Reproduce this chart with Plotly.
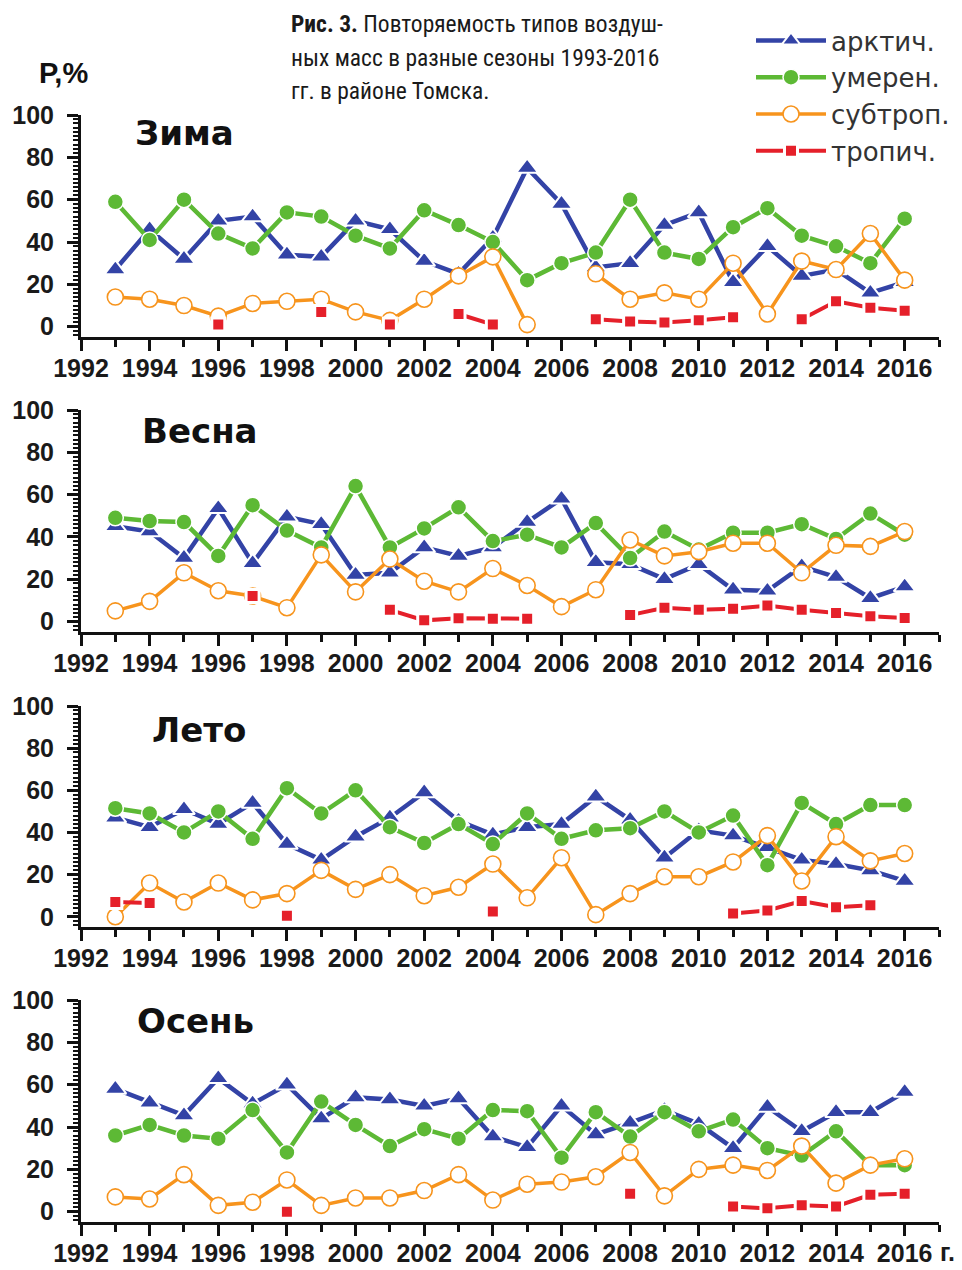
import plotly.graph_objects as go

W, H = 962, 1270

years = list(range(1993, 2017))
x_tick_vals = list(range(1992, 2018, 2))
x_tick_text = [str(v) for v in x_tick_vals]
y_tick_vals = [0, 20, 40, 60, 80, 100]
series_names = ["арктич.", "умерен.", "субтроп.", "тропич."]
season_titles = ["Зима", "Весна", "Лето", "Осень"]
N = None

# ---- Зима (winter) ----
winter_arctic = [27, 46, 32, 50, 52, 34, 33, 50, 46, 31, 25, 42, 75, 58, 28, 30, 48, 54, 21, 38, 24, 27, 16, 21]
winter_temperate = [59, 41, 60, 44, 37, 54, 52, 43, 37, 55, 48, 40, 22, 30, 35, 60, 35, 32, 47, 56, 43, 38, 30, 51]
winter_subtrop = [14, 13, 10, 5, 11, 12, 13, 7, 3, 13, 24, 33, 1, N, 25, 13, 16, 13, 30, 6, 31, 27, 44, 22]
winter_trop = [N, N, N, 1, N, N, 7, N, 1, N, 6, 1, N, N, 3.5, 2.5, 2, 3, 4.5, N, 3.5, 12, 9, 7.5]

# ---- Весна (spring) ----
spring_arctic = [45, 42.5, 30, 53.5, 27.5, 49.5, 46, 22, 23, 35, 31, 35, 47, 58, 28, 27, 20, 27, 15, 14.5, 26, 21, 11, 16.5]
spring_temperate = [49, 47.5, 47, 31, 55, 43, 35, 64, 35, 44, 54, 38, 41, 35, 46.5, 30, 42.5, 34, 42, 42, 46, 39, 51, 41]
spring_subtrop = [5, 9.5, 23, 14.5, 12, 6.5, 31.5, 14, 29.5, 19, 14, 25, 17, 7, 15, 38.5, 31, 33, 37, 37, 23, 36, 35.5, 42.5]
spring_trop = [N, N, N, N, 12, N, N, N, 5.5, 0.5, 1.5, 1.3, 1.3, N, N, 3, 6.5, 5.5, 6, 7.5, 5.5, 4, 2.4, 1.6]

# ---- Лето (summer) ----
summer_arctic = [47, 42.5, 51, 44, 54, 34.5, 27, 38, 47, 59, 45.5, 39, 42.5, 44, 57, 46, 28, 41, 38.5, 33, 27, 25, 22, 17]
summer_temperate = [51.5, 49, 40, 50, 37, 61, 49, 60, 42.5, 35, 44, 34.5, 49, 37, 41, 42, 50, 40, 48, 24.5, 54, 44, 53, 53]
summer_subtrop = [0, 16, 7, 16, 8, 11, 22, 13, 20, 10, 14, 25, 9, 28, 1, 11, 19, 19, 26, 38.5, 17, 38, 26.5, 30]
summer_trop = [7, 6.5, N, N, N, 0.5, N, N, N, N, N, 2.5, N, N, N, N, N, N, 1.5, 3, 7.5, 4.5, 5.5, N]

# ---- Осень (autumn) ----
autumn_arctic = [58, 51.5, 45.5, 63, 51, 60, 44, 54, 53, 50, 53.5, 35.5, 30.5, 50, 36.5, 42, 48, 41.5, 30, 49.5, 38, 47, 47, 56.5]
autumn_temperate = [36, 41, 36, 34.5, 48, 28, 52, 41, 31, 39, 34.5, 48, 47.5, 25.5, 47, 35.5, 47, 38, 43.5, 30, 26.5, 38, 22, 22]
autumn_subtrop = [7, 6, 17.5, 3, 4.5, 15, 3, 6.5, 6.5, 10, 17.5, 5.5, 13, 14, 16.5, 28, 7.5, 20, 22, 19.5, 31, 13.5, 22, 25]
autumn_trop = [N, N, N, N, N, 0, N, N, N, N, N, N, N, N, N, 8.5, N, N, 2.5, 1.6, 3, 2.5, 8, 8.5]

seasons = [
    [winter_arctic, winter_temperate, winter_subtrop, winter_trop],
    [spring_arctic, spring_temperate, spring_subtrop, spring_trop],
    [summer_arctic, summer_temperate, summer_subtrop, summer_trop],
    [autumn_arctic, autumn_temperate, autumn_subtrop, autumn_trop],
]

BLUE = "#3343A6"
GREEN = "#5DB935"
ORANGE = "#F7941D"
RED = "#E5202A"

styles = [
    dict(line=dict(color=BLUE, width=4.5),
         marker=dict(symbol="triangle-up", size=19, color=BLUE, line=dict(color="white", width=2))),
    dict(line=dict(color=GREEN, width=4.5),
         marker=dict(symbol="circle", size=16, color=GREEN, line=dict(color="white", width=1.5))),
    dict(line=dict(color=ORANGE, width=3.5),
         marker=dict(symbol="circle", size=16, color="white", line=dict(color=ORANGE, width=1.6))),
    dict(line=dict(color=RED, width=4),
         marker=dict(symbol="square", size=13, color=RED, line=dict(color="white", width=3))),
]

def px(x):
    return x / W

def py(y):
    return 1 - y / H

# top (y=100) and bottom (x-axis line) pixel rows for each panel
panel_rows = [(115, 337.3), (410, 632), (706, 927.3), (1000, 1222.3)]
x_dom = [px(81), px(939)]

fig = go.Figure()
layout = {}
TICKFONT = dict(family="Liberation Sans, Arial, sans-serif", size=25, color="#1a1a1a", weight="bold")

for i, (rows, data) in enumerate(zip(panel_rows, seasons)):
    k = "" if i == 0 else str(i + 1)
    for j, ys in enumerate(data):
        fig.add_trace(go.Scatter(
            x=years, y=ys, mode="lines+markers", name=series_names[j],
            xaxis="x" + k, yaxis="y" + k, showlegend=(i == 0),
            connectgaps=False, cliponaxis=False, **styles[j]))
    top, bot = rows
    layout["xaxis" + k] = dict(
        domain=x_dom, range=[1992, 2017], anchor="y" + k, automargin=False,
        tickvals=x_tick_vals, ticktext=x_tick_text,
        ticks="outside", ticklen=11, tickwidth=2.5, tickcolor="#111",
        showline=True, linewidth=3, linecolor="#111",
        showgrid=False, zeroline=False, tickfont=TICKFONT,
        ticklabelstandoff=-4,
        minor=dict(dtick=1, tick0=1992, ticks="outside", ticklen=7, tickwidth=2.5, tickcolor="#111", showgrid=False),
    )
    layout["yaxis" + k] = dict(
        domain=[py(bot), py(top)], range=[-5, 100], anchor="x" + k, automargin=False,
        tickvals=y_tick_vals, ticks="outside", ticklen=11, tickwidth=2.5, tickcolor="#111",
        showline=True, linewidth=3, linecolor="#111",
        showgrid=False, zeroline=False, tickfont=TICKFONT,
        ticklabelstandoff=8,
        minor=dict(dtick=2, tick0=0, ticks="outside", ticklen=5, tickwidth=1.8, tickcolor="#111", showgrid=False),
    )

title_pos = [(133, 133), (140, 431), (150, 730), (135, 1021)]
annotations = []
for t, (x0, y0) in zip(season_titles, title_pos):
    annotations.append(dict(
        text=t, x=px(x0), y=py(y0), xref="paper", yref="paper",
        xanchor="left", yanchor="middle", showarrow=False,
        font=dict(family="DejaVu Sans, sans-serif", size=34, color="#111", weight="bold")))

annotations.append(dict(
    text="Р,%", x=px(37), y=py(73), xref="paper", yref="paper",
    xanchor="left", yanchor="middle", showarrow=False,
    font=dict(family="Liberation Sans, Arial, sans-serif", size=29, color="#111", weight="bold")))

annotations.append(dict(
    text="г.", x=px(938), y=py(1252), xref="paper", yref="paper",
    xanchor="left", yanchor="middle", showarrow=False,
    font=dict(family="Liberation Sans, Arial, sans-serif", size=25, color="#1a1a1a", weight="bold")))

caption_lines = [
    "<b>Рис. 3.</b> Повторяемость типов воздуш-",
    "ных масс в разные сезоны 1993-2016",
    "гг. в районе Томска.",
]
CAP_FONT = dict(family="Liberation Sans Narrow, Roboto Condensed, DejaVu Sans Condensed, Arial Narrow, Liberation Sans, sans-serif",
                size=23.5, color="#1a1a1a")
for line, yc in zip(caption_lines, [24, 58, 91]):
    annotations.append(dict(
        text=line, x=px(289), y=py(yc), xref="paper", yref="paper",
        xanchor="left", yanchor="middle", showarrow=False, font=CAP_FONT))

fig.update_layout(
    width=W, height=H,
    margin=dict(l=0, r=0, t=0, b=0),
    paper_bgcolor="white", plot_bgcolor="white",
    annotations=annotations,
    legend=dict(
        x=px(751), y=py(17), xanchor="left", yanchor="top",
        font=dict(family="DejaVu Sans, sans-serif", size=26, color="#333"),
        bgcolor="rgba(0,0,0,0)", itemwidth=70, tracegroupgap=0,
    ),
    **layout,
)

fig.write_html("out.html")
